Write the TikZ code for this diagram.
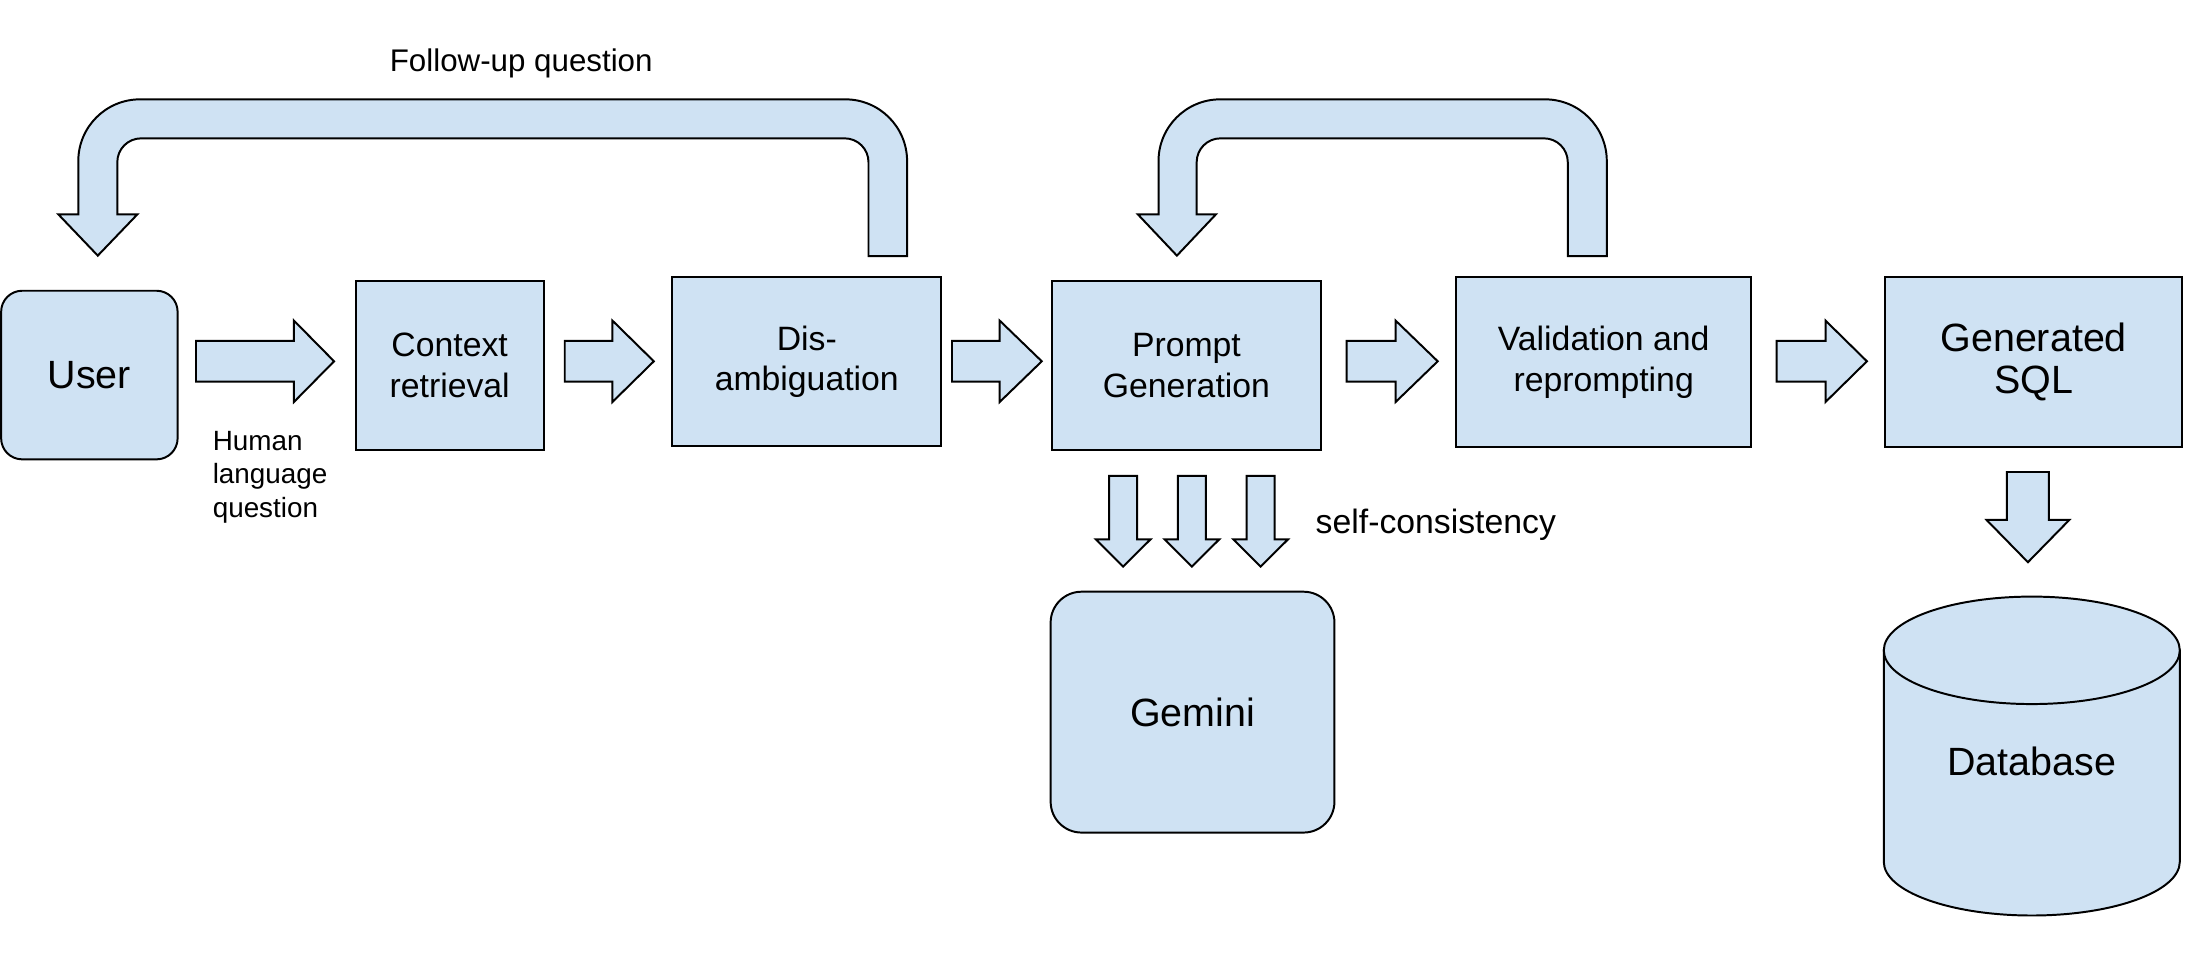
\documentclass[tikz,border=0pt]{standalone}
\usepackage{xcolor}
\usepackage{fontspec}
\setmainfont{Liberation Sans}
\usepackage{tikz}
\usetikzlibrary{calc}

\definecolor{boxblue}{HTML}{CFE2F3}
\newcommand{\txtnormal}{\fontsize{13.7pt}{16.4pt}\selectfont}
\newcommand{\txtbig}{\fontsize{16pt}{17.1pt}\selectfont}
\newcommand{\txtsmall}{\fontsize{11.3pt}{13.55pt}\selectfont}
\newcommand{\txtlabel}{\fontsize{12.7pt}{15pt}\selectfont}

\tikzset{
  blockfill/.style={draw=black, fill=boxblue, line width=0.8pt},
  squarebox/.style={blockfill, inner sep=0pt, align=center, font=\txtnormal},
  roundbox/.style={blockfill, inner sep=0pt, align=center, font=\txtbig},
}

\begin{document}
\begin{tikzpicture}[x=0.02cm, y=-0.02cm]
            \useasboundingbox (0,0) rectangle (1568,690.6);
            {
            
            % Boxes of the pipeline
            \node [roundbox, rounded corners=0.3cm, minimum width=2.516cm, minimum height=2.404cm] (user) at (63.7,267.3) {User};%
            \node [squarebox, minimum width=2.68cm, minimum height=2.42cm] (context) at (320.5,260.5) {Context\\retrieval};%
            \node [squarebox, minimum width=3.84cm, minimum height=2.41cm] (disamb) at (575,257.75) {Dis-\\ambiguation};%
            \node [squarebox, minimum width=3.828cm, minimum height=2.42cm] (prompt) at (845.6,260.5) {Prompt\\Generation};%
            \node [squarebox, minimum width=4.208cm, minimum height=2.424cm, font=\fontsize{13.7pt}{16.9pt}\selectfont] (valid) at (1143,258.2) {Validation and\\reprompting};%
            \node [squarebox, minimum width=4.23cm, minimum height=2.424cm, font=\txtbig] (sql) at (1449.45,258.2) {Generated\\SQL};%
            \node [roundbox, rounded corners=0.44cm, minimum width=4.046cm, minimum height=3.434cm] (gemini) at (849.95,507.55) {Gemini};%
            
            % Arrow from User to Context retrieval
            \draw [blockfill] (139.7,243) -- (209.5,243) -- (209.5,228.5) -- (238.1,257.5) -- (209.5,286.5) -- (209.5,272) -- (139.7,272) -- cycle;%
            
            % Arrow from Context retrieval to Dis-ambiguation
            \draw [blockfill] (402.5,243) -- (436.5,243) -- (436.5,228.5) -- (466,257.5) -- (436.5,286.5) -- (436.5,272) -- (402.5,272) -- cycle;%
            
            % Arrow from Dis-ambiguation to Prompt Generation
            \draw [blockfill] (678.5,243) -- (712.5,243) -- (712.5,228.5) -- (742.5,257.5) -- (712.5,286.5) -- (712.5,272) -- (678.5,272) -- cycle;%
            
            % Arrow from Prompt Generation to Validation
            \draw [blockfill] (959.8,243) -- (994.7,243) -- (994.7,228.5) -- (1024.7,257.5) -- (994.7,286.5) -- (994.7,272) -- (959.8,272) -- cycle;%
            
            % Arrow from Validation to Generated SQL
            \draw [blockfill] (1266.2,243) -- (1301.1,243) -- (1301.1,228.5) -- (1330.6,257.5) -- (1301.1,286.5) -- (1301.1,272) -- (1266.2,272) -- cycle;%
            
            % Loop back from Dis-ambiguation to User
            \draw [blockfill] (646.5,182.5) -- (646.5,114.8) .. controls (646.5,90.5) and (626.8,70.8) .. (602.5,70.8) -- (99.8,70.8) .. controls (75.5,70.8) and (55.8,90.5) .. (55.8,114.8) -- (55.8,152.8) -- (41.6,152.8) -- (69.7,182.2) -- (97.9,152.8) -- (83.6,152.8) -- (83.6,115.6) .. controls (83.6,106.2) and (91.2,98.6) .. (100.6,98.6) -- (602,98.6) .. controls (611.4,98.6) and (619,106.2) .. (619,115.6) -- (619,182.5) -- cycle;%
            \node [font=\txtlabel, anchor=base] (followup) at (371.5,51) {Follow-up question};%
            
            % Loop back from Validation to Prompt Generation
            \draw [blockfill] (1145.2,182.5) -- (1145.2,114.8) .. controls (1145.2,90.5) and (1125.5,70.8) .. (1101.2,70.8) -- (869.7,70.8) .. controls (845.4,70.8) and (825.7,90.5) .. (825.7,114.8) -- (825.7,152.8) -- (811,152.8) -- (838.8,182.2) -- (866.6,152.8) -- (852.9,152.8) -- (852.9,115.6) .. controls (852.9,106.2) and (860.5,98.6) .. (869.9,98.6) -- (1100.4,98.6) .. controls (1109.8,98.6) and (1117.4,106.2) .. (1117.4,115.6) -- (1117.4,182.5) -- cycle;%
            
            % Question label under the first arrow
            \node [font=\txtsmall, align=left, anchor=north west, inner sep=0pt] (humanq) at (151.3,307) {Human\\language\\question};%
            
            % Three arrows from Prompt Generation to Gemini
            \draw [blockfill] (790.5,339.2) -- (810.5,339.2) -- (810.5,384.4) -- (820,384.4) -- (800.5,403.8) -- (781,384.4) -- (790.5,384.4) -- cycle;%
            \draw [blockfill] (839.5,339.2) -- (859.5,339.2) -- (859.5,384.4) -- (869,384.4) -- (849.5,403.8) -- (830,384.4) -- (839.5,384.4) -- cycle;%
            \draw [blockfill] (888.5,339.2) -- (908.5,339.2) -- (908.5,384.4) -- (918,384.4) -- (898.5,403.8) -- (879,384.4) -- (888.5,384.4) -- cycle;%
            \node [font=\txtnormal, anchor=base west, inner sep=0pt] (selfcons) at (937.4,380.1) {self-consistency};%
            
            % Arrow from Generated SQL to Database
            \draw [blockfill] (1430.4,336.4) -- (1460.3,336.4) -- (1460.3,370.6) -- (1474.8,370.6) -- (1445.35,400.7) -- (1415.9,370.6) -- (1430.4,370.6) -- cycle;%
            
            % Database cylinder
            \draw [blockfill] (1342.6,463.5) -- (1342.6,614.2) .. controls (1342.6,635.3) and (1389.9,652.5) .. (1448.1,652.5) .. controls (1506.3,652.5) and (1553.6,635.3) .. (1553.6,614.2) -- (1553.6,463.5) -- cycle;%
            \draw [blockfill] (1448.1,463.5) ellipse [x radius=2.11cm, y radius=0.766cm];%
            \node [font=\txtbig] (db) at (1448.1,542.8) {Database};%
            }
        \end{tikzpicture}
\end{document}
